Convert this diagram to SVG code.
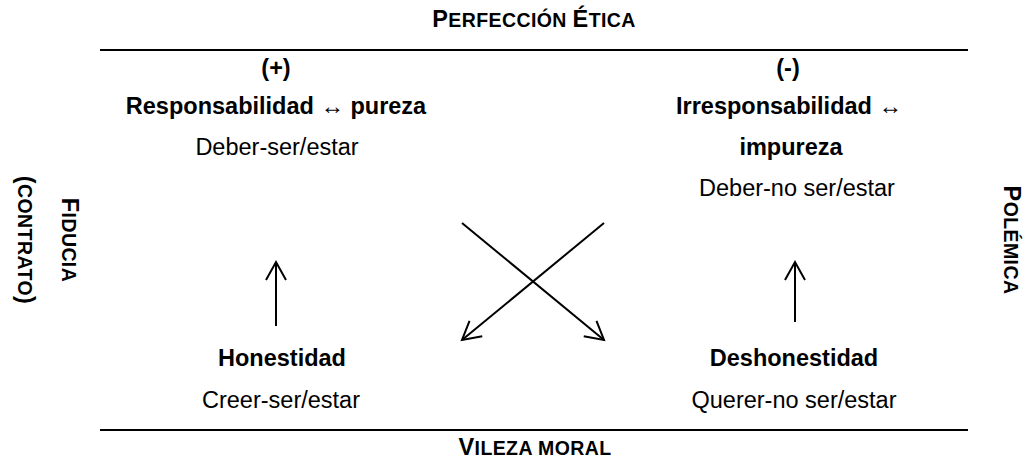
<svg xmlns="http://www.w3.org/2000/svg" width="1030" height="460" viewBox="0 0 1030 460">
<defs>
<style>
text{font-family:"Liberation Sans",Arial,sans-serif;fill:#000;text-anchor:middle}
.b{font-weight:bold;font-size:23.5px}
.r{font-size:23.5px}
.sc{font-size:19.5px}
.rule{stroke:#000;stroke-width:2}
.arr{stroke:#000;stroke-width:2;fill:none}
</style>
<marker id="ah" markerWidth="22" markerHeight="24" refX="19" refY="12" orient="auto" markerUnits="userSpaceOnUse">
<path d="M1,2 L19,12 L1,22" fill="none" stroke="#000" stroke-width="2"/>
</marker>
</defs>
<rect width="1030" height="460" fill="#fff"/>
<g id="axes">
<line class="rule" x1="100" y1="50" x2="968" y2="50"/>
<line class="rule" x1="100" y1="430" x2="968" y2="430"/>
<text class="b" x="534" y="27" letter-spacing="0.4">P<tspan class="sc">ERFECCIÓN </tspan>É<tspan class="sc">TICA</tspan></text>
<text class="b" x="535" y="455" letter-spacing="0.4">V<tspan class="sc">ILEZA MORAL</tspan></text>
<text class="b" transform="translate(62,240) rotate(90)" letter-spacing="0.4">F<tspan class="sc">IDUCIA</tspan></text>
<text class="b" transform="translate(18,240) rotate(90)" letter-spacing="0.4">(<tspan class="sc">CONTRATO</tspan>)</text>
<text class="b" transform="translate(1004,240) rotate(90)" letter-spacing="0.4">P<tspan class="sc">OLÉMICA</tspan></text>
</g>
<g id="node-responsabilidad">
<text class="b" x="276" y="76">(+)</text>
<text class="b" x="276" y="114">Responsabilidad ↔ pureza</text>
<text class="r" x="277" y="155">Deber-ser/estar</text>
</g>
<g id="node-irresponsabilidad">
<text class="b" x="788" y="76">(-)</text>
<text class="b" x="789" y="114">Irresponsabilidad ↔</text>
<text class="b" x="791" y="155">impureza</text>
<text class="r" x="797" y="196">Deber-no ser/estar</text>
</g>
<g id="node-honestidad">
<text class="b" x="282" y="366">Honestidad</text>
<text class="r" x="281" y="408">Creer-ser/estar</text>
</g>
<g id="node-deshonestidad">
<text class="b" x="794" y="366">Deshonestidad</text>
<text class="r" x="794" y="408">Querer-no ser/estar</text>
</g>
<g id="connectors">
<line class="arr" x1="276" y1="326" x2="276" y2="262" marker-end="url(#ah)"/>
<line class="arr" x1="795" y1="322" x2="795" y2="262" marker-end="url(#ah)"/>
<line class="arr" x1="462" y1="223" x2="604" y2="340" marker-end="url(#ah)"/>
<line class="arr" x1="604" y1="223" x2="462" y2="340" marker-end="url(#ah)"/>
</g>
</svg>
